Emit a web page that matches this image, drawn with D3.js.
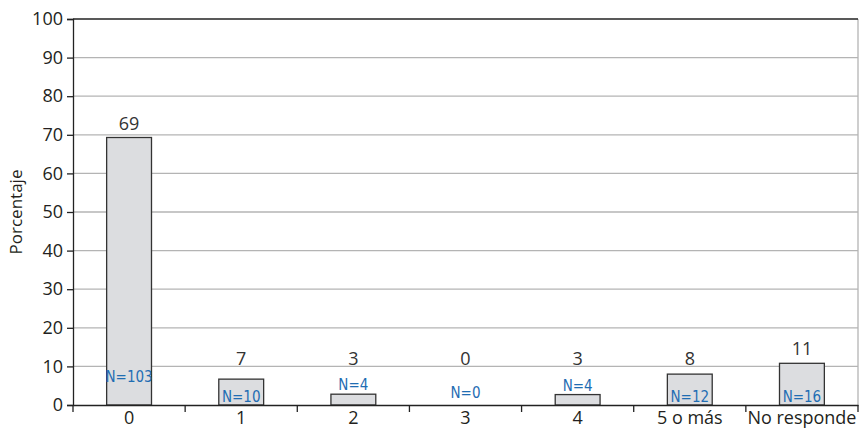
<!DOCTYPE html>
<html><head><meta charset="utf-8">
<script src="https://cdn.jsdelivr.net/npm/d3@7"></script>
<style>body{margin:0;background:#fff}svg{display:block}</style>
</head><body>
<svg id="c" width="859" height="429"></svg>
<script>
const categories = ["0","1","2","3","4","5 o más","No responde"];
const values = [69.3, 6.7, 2.8, 0, 2.7, 8.0, 10.8];
const valueLabels = ["69","7","3","0","3","8","11"];
const nLabels = ["N=103","N=10","N=4","N=0","N=4","N=12","N=16"];
const yTicks = [0,10,20,30,40,50,60,70,80,90,100];

const svg = d3.select("#c");
const m = {l:73, r:858, t:19, b:405};
const x = d3.scaleBand().domain(categories).range([m.l, m.r]).paddingInner(0).paddingOuter(0);
const y = d3.scaleLinear().domain([0,100]).range([m.b, m.t]);
const font = "'Open Sans', 'Noto Sans', sans-serif";
const nFont = "'DejaVu Sans Condensed', 'DejaVu Sans', sans-serif";

// gridlines
svg.append("g").selectAll("line").data(yTicks.filter(d=>d>0 && d<100)).join("line")
  .attr("x1", m.l).attr("x2", m.r).attr("y1", d=>y(d)).attr("y2", d=>y(d))
  .attr("stroke", "#b4b4b4").attr("stroke-width", 1.3);
// right border
svg.append("line").attr("x1", m.r).attr("x2", m.r).attr("y1", m.t).attr("y2", m.b)
  .attr("stroke", "#b4b4b4").attr("stroke-width", 1.3);
// top border
svg.append("line").attr("x1", m.l).attr("x2", m.r).attr("y1", m.t).attr("y2", m.t)
  .attr("stroke", "#222").attr("stroke-width", 1.3);

// bars
const bw = x.bandwidth()*0.4;
svg.append("g").selectAll("rect").data(values).join("rect")
  .attr("x", (d,i)=>x(categories[i]) + x.bandwidth()/2 - bw/2)
  .attr("width", bw)
  .attr("y", d=>y(d)).attr("height", d=>y(0)-y(d))
  .attr("fill", d=> d>0 ? "#dcdde0" : "none")
  .attr("stroke", d=> d>0 ? "#333" : "none").attr("stroke-width", 1.3);

// y axis
const ya = svg.append("g").attr("transform", `translate(${m.l},0)`)
  .call(d3.axisLeft(y).tickValues(yTicks).tickSize(6).tickPadding(4));
ya.select(".domain").attr("stroke", "#222").attr("stroke-width", 1.3);
ya.selectAll(".tick line").attr("stroke", "#222").attr("stroke-width", 1.3);
ya.selectAll(".tick text").attr("font-family", font).attr("font-size", 18).attr("fill", "#231f20");

// x axis
const xa = svg.append("g").attr("transform", `translate(0,${m.b})`)
  .call(d3.axisBottom(x).tickSize(0).tickPadding(6));
xa.select(".domain").attr("stroke", "#222").attr("stroke-width", 1.3);
xa.selectAll(".tick text").attr("font-family", font).attr("font-size", 18).attr("fill", "#231f20").attr("dy", "0.7em");
svg.append("g").selectAll("line").data(d3.range(categories.length+1)).join("line")
  .attr("x1", i=>m.l + i*x.bandwidth()).attr("x2", i=>m.l + i*x.bandwidth())
  .attr("y1", m.b).attr("y2", m.b+7).attr("stroke", "#222").attr("stroke-width", 1.3);

// value labels
svg.append("g").selectAll("text").data(values).join("text")
  .attr("x", (d,i)=>x(categories[i]) + x.bandwidth()/2)
  .attr("y", d=>Math.min(y(d)-8, y(10.4)))
  .attr("text-anchor", "middle").attr("font-family", font).attr("font-size", 18).attr("fill", "#333")
  .text((d,i)=>valueLabels[i]);

// N labels
svg.append("g").selectAll("text").data(values).join("text")
  .attr("x", (d,i)=>x(categories[i]) + x.bandwidth()/2)
  .attr("y", d=> d>20 ? y(6) : (d>5 ? y(0)-3 : (d>0 ? y(d)-4 : y(0)-7)))
  .attr("text-anchor", "middle").attr("font-family", nFont)
  .attr("font-size", 15).attr("fill", "#1f6db3")
  .text((d,i)=>nLabels[i]);

// y label
svg.append("text").attr("transform", `translate(22,${(m.t+m.b)/2}) rotate(-90)`)
  .attr("text-anchor", "middle").attr("font-family", font).attr("font-size", 17).attr("fill", "#231f20")
  .text("Porcentaje");
</script>
</body></html>
